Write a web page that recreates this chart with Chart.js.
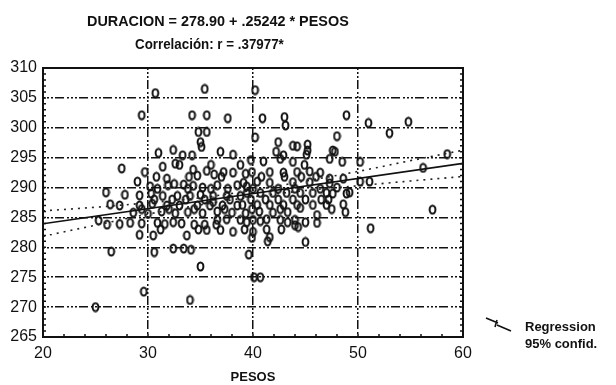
<!DOCTYPE html>
<html>
<head>
<meta charset="utf-8">
<script src="https://cdn.jsdelivr.net/npm/chart.js@4.4.1/dist/chart.umd.min.js"></script>
<style>
  body { margin: 0; background: #fff; }
  #wrap { position: relative; width: 616px; height: 385px; }
  .txt { position: absolute; font-family: "Liberation Sans", Arial, sans-serif; font-weight: bold; color: #111; white-space: nowrap; transform-origin: left top; }
  #t1 { left: 87px; top: 12px; font-size: 15px; transform: scaleX(0.96); }
  #t2 { left: 135px; top: 35px; font-size: 15px; transform: scaleX(0.89); }
  #lg1 { left: 525px; top: 319px; font-size: 13px; }
  #lg2 { left: 525px; top: 336px; font-size: 13px; }
</style>
</head>
<body>
<div id="wrap">
  <canvas id="scatterChart" width="616" height="385"></canvas>
  <div class="txt" id="t1">DURACION = 278.90 + .25242 * PESOS</div>
  <div class="txt" id="t2">Correlación: r = .37977*</div>
  <div class="txt" id="lg1">Regression</div>
  <div class="txt" id="lg2">95% confid.</div>
</div>
<script>
const pesos = [
  25.0, 29.6, 34.0, 40.1, 40.7, 30.7, 29.4, 35.4, 40.2, 34.2, 35.6, 37.6, 40.9, 43.0, 43.1, 48.9,
  51.0, 53.0, 54.8, 57.1, 51.2, 56.2, 58.5, 40.2, 35.6, 34.8, 48.0, 47.6, 48.5, 50.2, 50.2, 51.1,
  45.0, 41.4, 46.1, 44.3, 26.5, 30.6, 32.4, 33.4, 34.1, 35.0, 39.6, 27.5, 29.7, 29.0, 30.2,
  35.1, 35.0, 42.4, 44.2, 45.2, 43.8, 45.2,
  31.0, 32.4, 33.3, 34.2, 36.9, 38.1, 42.2, 42.9, 45.1, 47.8,
  39.8, 41.0, 42.6, 43.8, 47.3,
  33.0, 36.0, 38.8, 44.9,
  31.4, 32.6, 34.3, 35.6, 36.3, 37.2, 38.1, 39.3, 39.9, 41.6, 42.9, 44.2, 45.4, 46.4, 34.7,
  30.8, 33.9, 37.0, 40.8, 43.0, 44.6, 46.0,
  31.8, 32.5, 33.4, 31.9, 34.3, 35.2, 36.6, 38.5, 39.4, 39.1, 40.4, 41.6, 43.8, 45.4, 47.3, 47.3,
  48.6, 48.0, 26.0, 27.8,
  30.9, 33.8, 36.0, 37.6, 40.0, 42.4, 44.0, 46.4,
  31.4, 32.8, 34.0, 35.0, 36.2, 37.5, 38.8, 39.4, 40.7, 41.9, 43.2, 44.5, 45.7, 47.0, 47.6, 48.9,
  49.2, 29.2, 30.3,
  30.6, 32.3, 33.6, 35.4, 37.8, 39.8, 41.2, 42.4, 43.8, 45.0,
  31.8, 33.0, 34.7, 35.9, 37.1, 38.5, 39.0, 40.4, 41.6, 42.9, 44.2, 45.7, 47.0, 48.6, 46.5, 47.2,
  44.5, 26.4, 27.3, 29.2, 30.4, 36.2,
  29.4, 32.0, 34.4, 37.3, 39.9, 42.6, 47.5,
  28.6, 30.0, 31.3, 32.6, 33.8, 35.2, 36.6, 38.0, 39.3, 40.6, 41.9, 43.3, 46.1, 48.8,
  25.3, 26.1, 27.3, 28.3, 29.4, 30.9, 31.6, 33.2, 34.4, 35.4, 36.5, 36.6, 37.5, 38.8, 40.0, 40.7,
  41.3, 42.6, 44.0,
  32.4, 39.4, 43.3, 45.0,
  29.2, 30.5, 33.7, 35.6, 36.9, 38.1, 40.0, 41.3, 42.7, 41.6, 39.9, 44.0,
  31.2, 34.8, 39.2
];
const duracion = [
  270.0, 272.6, 271.2, 275.0, 275.0, 305.8, 302.1, 306.5, 306.3, 302.1, 302.1, 301.6, 301.6, 301.8, 300.4, 302.1,
  300.8, 299.1, 301.0, 286.3, 283.2, 293.3, 295.6, 298.4, 299.3, 299.3, 298.6, 296.2, 294.3, 294.3, 291.0, 291.0,
  280.9, 281.0, 284.1, 283.4, 279.3, 279.2, 279.8, 279.8, 279.6, 276.8, 278.8, 293.2, 292.6, 291.0, 290.2,
  296.8, 297.6, 297.6, 296.9, 297.2, 297.0, 296.2,
  295.8, 296.3, 295.4, 295.4, 296.0, 295.5, 296.0, 295.4, 295.5, 296.0,
  294.6, 294.4, 294.8, 294.3, 294.8,
  293.8, 293.8, 293.8, 293.8,
  293.5, 294.0, 293.0, 292.8, 292.2, 292.6, 292.5, 292.3, 292.6, 292.6, 292.5, 292.6, 292.7, 292.5, 292.0,
  291.8, 291.8, 291.8, 291.8, 291.8, 291.8, 291.8,
  291.5, 290.6, 290.5, 290.4, 290.3, 290.0, 290.4, 290.4, 290.2, 290.8, 291.0, 290.8, 290.9, 290.9, 290.7, 291.5,
  291.5, 290.0, 289.2, 288.8,
  289.8, 289.8, 289.8, 289.8, 289.8, 289.8, 289.8, 289.8,
  288.6, 288.6, 288.6, 288.8, 288.6, 288.6, 288.6, 289.1, 289.1, 289.1, 289.1, 289.1, 289.1, 289.1, 289.0, 289.0,
  289.2, 288.7, 289.0,
  288.0, 288.0, 288.0, 288.0, 288.0, 288.0, 288.0, 288.0, 288.0, 288.0,
  287.0, 287.0, 287.0, 287.0, 287.0, 287.0, 287.1, 287.1, 287.1, 287.1, 287.1, 287.1, 287.1, 287.2, 288.0, 288.0,
  286.6, 287.2, 287.0, 287.0, 287.3, 287.6,
  286.4, 286.4, 286.4, 286.4, 286.4, 286.4, 286.4,
  285.8, 285.6, 286.0, 285.7, 285.9, 285.7, 286.0, 285.8, 285.7, 286.0, 285.8, 285.9, 285.4, 285.9,
  284.5, 283.8, 283.9, 284.1, 284.0, 284.1, 283.9, 284.0, 283.8, 283.8, 283.8, 284.6, 284.7, 284.6, 284.6, 284.4,
  284.7, 284.6, 284.6,
  284.2, 284.2, 284.2, 284.2,
  282.1, 282.0, 282.0, 282.9, 282.9, 282.6, 282.6, 283.0, 283.0, 281.7, 281.6, 283.7,
  283.0, 283.0, 283.0
];

// fitted line and 95% band, read at the x ticks
const regX = [20, 60];
const regY = [283.95, 294.05];
const bandX = [20, 25, 30, 35, 40, 45, 50, 55, 60];
const bandUpper = [286.1, 286.7, 287.45, 288.3, 289.55, 291.1, 292.7, 294.5, 296.25];
const bandLower = [281.85, 283.7, 285.55, 287.1, 288.45, 289.5, 290.3, 291.1, 291.85];

const xTicks = [20, 30, 40, 50, 60];
const yTicks = [265, 270, 275, 280, 285, 290, 295, 300, 305, 310];

function toXY(xs, ys) {
    return xs.map((x, i) => ({ x: x, y: ys[i] }));
}

// hollow oval marker like the scanned plot symbols
const marker = document.createElement('canvas');
marker.width = 9;
marker.height = 11;
(function () {
    const m = marker.getContext('2d');
    m.strokeStyle = '#111';
    m.lineWidth = 2;
    m.beginPath();
    m.ellipse(4.5, 5.5, 2.9, 4, 0, 0, Math.PI * 2);
    m.stroke();
})();

const gridDash = [2, 2, 2, 2, 2, 2, 9, 3];

// frame, inner minor ticks and the legend sample line
const framePlugin = {
    id: 'frame',
    afterDraw(chart) {
        const { ctx, chartArea: a, scales: { x, y } } = chart;
        ctx.save();
        ctx.strokeStyle = '#111';
        ctx.lineWidth = 2;
        ctx.strokeRect(a.left, a.top, a.right - a.left, a.bottom - a.top);
        ctx.lineWidth = 1.5;
        ctx.beginPath();
        for (let v = 22; v < 60; v += 2) {
            const px = x.getPixelForValue(v);
            ctx.moveTo(px, a.bottom);
            ctx.lineTo(px, a.bottom - 3);
        }
        for (let v = 266; v < 310; v += 1) {
            const py = y.getPixelForValue(v);
            ctx.moveTo(a.left, py);
            ctx.lineTo(a.left + 3, py);
            ctx.moveTo(a.right, py);
            ctx.lineTo(a.right - 3, py);
        }
        ctx.stroke();
        // legend sample
        ctx.lineWidth = 1.6;
        ctx.beginPath();
        ctx.moveTo(486, 318);
        ctx.lineTo(498, 323);
        ctx.moveTo(497, 320);
        ctx.lineTo(495, 327);
        ctx.moveTo(497, 325);
        ctx.lineTo(511, 331);
        ctx.stroke();
        ctx.restore();
    }
};

const ctx = document.getElementById('scatterChart').getContext('2d');

new Chart(ctx, {
    type: 'scatter',
    data: {
        datasets: [
            {
                data: toXY(regX, regY),
                showLine: true,
                borderColor: '#111',
                borderWidth: 1.6,
                pointRadius: 0
            },
            {
                data: toXY(bandX, bandUpper),
                showLine: true,
                borderColor: '#222',
                borderWidth: 1.6,
                borderDash: [2, 5],
                cubicInterpolationMode: 'monotone',
                pointRadius: 0
            },
            {
                data: toXY(bandX, bandLower),
                showLine: true,
                borderColor: '#222',
                borderWidth: 1.6,
                borderDash: [2, 5],
                cubicInterpolationMode: 'monotone',
                pointRadius: 0
            },
            {
                data: toXY(pesos, duracion),
                pointStyle: marker,
                pointRadius: 4,
                showLine: false
            }
        ]
    },
    options: {
        responsive: false,
        animation: false,
        layout: {
            padding: { top: 68, right: 153, left: 0, bottom: 0 }
        },
        scales: {
            x: {
                type: 'linear',
                min: 20,
                max: 60,
                afterBuildTicks: (s) => { s.ticks = xTicks.map(v => ({ value: v })); },
                afterFit: (s) => { s.height = 48; },
                ticks: {
                    color: '#111',
                    padding: 7,
                    font: { family: 'Liberation Sans', size: 16 }
                },
                grid: { color: '#111', lineWidth: 1.5, drawTicks: false },
                border: { display: false, dash: gridDash },
                title: {
                    display: true,
                    text: 'PESOS',
                    color: '#111',
                    padding: 0,
                    font: { family: 'Liberation Sans', size: 13, weight: 'bold' }
                }
            },
            y: {
                type: 'linear',
                min: 265,
                max: 310,
                afterBuildTicks: (s) => { s.ticks = yTicks.map(v => ({ value: v })); },
                afterFit: (s) => { s.width = 43; },
                ticks: {
                    color: '#111',
                    padding: 6,
                    font: { family: 'Liberation Sans', size: 16 }
                },
                grid: { color: '#111', lineWidth: 1.5, drawTicks: false },
                border: { display: false, dash: gridDash }
            }
        },
        plugins: {
            legend: { display: false },
            tooltip: { enabled: false }
        }
    },
    plugins: [framePlugin]
});
</script>
</body>
</html>
